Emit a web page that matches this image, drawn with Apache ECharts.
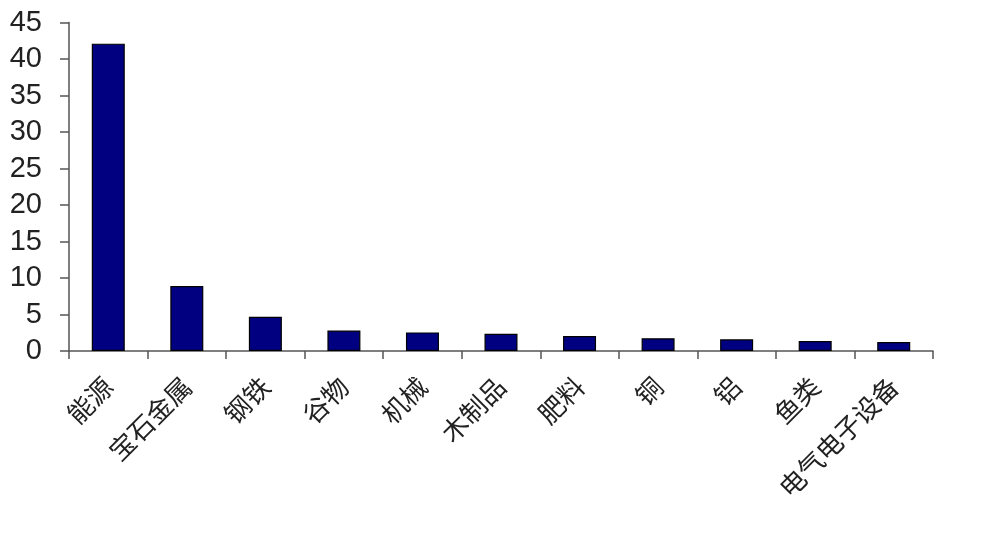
<!DOCTYPE html>
<html>
<head>
<meta charset="utf-8">
<script src="https://cdn.jsdelivr.net/npm/echarts@6/dist/echarts.min.js"></script>
<style>
html,body{margin:0;padding:0;background:#fff;}
#chart{width:987px;height:536px;}
</style>
</head>
<body>
<div id="chart"></div>
<script>
const categories = ['能源','宝石金属','钢铁','谷物','机械','木制品','肥料','铜','铝','鱼类','电气电子设备'];
const values = [42.1, 8.9, 4.7, 2.8, 2.55, 2.35, 2.05, 1.75, 1.6, 1.37, 1.23];
const yTicks = { min: 0, max: 45, interval: 5 };

const chart = echarts.init(document.getElementById('chart'));
chart.setOption({
  animation: false,
  backgroundColor: '#ffffff',
  grid: { left: 69, right: 54, top: 22.5, bottom: 185, containLabel: false },
  xAxis: {
    type: 'category',
    data: categories,
    boundaryGap: true,
    axisLine: { show: true, lineStyle: { color: '#555', width: 1.5 } },
    axisTick: { show: true, alignWithLabel: false, length: 8, lineStyle: { color: '#555', width: 1.5 } },
    axisLabel: {
      rotate: 45,
      margin: 31,
      interval: 0,
      fontSize: 26,
      color: '#222',
      fontFamily: 'Noto Sans CJK SC'
    },
    splitLine: { show: false }
  },
  yAxis: {
    type: 'value',
    min: yTicks.min,
    max: yTicks.max,
    interval: yTicks.interval,
    axisLine: { show: true, lineStyle: { color: '#555', width: 1.5 } },
    axisTick: { show: true, length: 9, lineStyle: { color: '#555', width: 1.5 } },
    axisLabel: {
      margin: 27,
      fontSize: 29,
      color: '#222',
      fontFamily: 'Liberation Sans'
    },
    splitLine: { show: false }
  },
  series: [{
    type: 'bar',
    data: values,
    barWidth: 33,
    itemStyle: { color: '#000080', borderColor: '#000', borderWidth: 1.2 }
  }]
});
</script>
</body>
</html>
